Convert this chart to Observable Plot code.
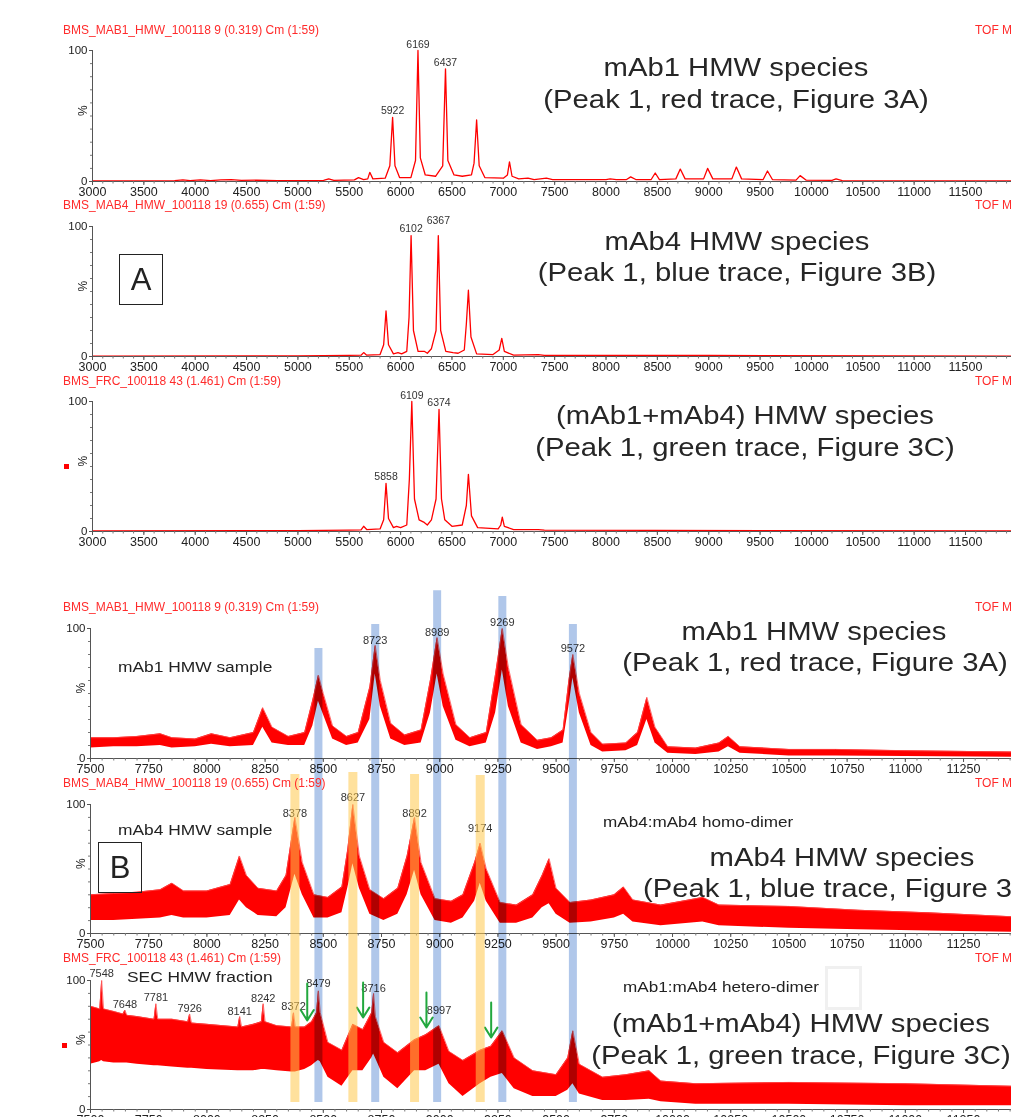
<!DOCTYPE html>
<html><head><meta charset="utf-8">
<script src="https://cdn.jsdelivr.net/npm/d3@7"></script>
<script src="https://cdn.jsdelivr.net/npm/@observablehq/plot@0.6"></script>
<style>
body{margin:0;background:#fff}
#fig{position:relative;width:1011px;height:1117px;overflow:hidden;background:#fff;font-family:"Liberation Sans",Arial,sans-serif}
#fig svg{position:absolute;left:0;overflow:visible}
.t{position:absolute;white-space:nowrap;line-height:1}
.hdr{font-size:12px;color:#ff2b2b;transform:translate(0,-50%)}
.big{font-size:25px;color:#262626;transform:translate(-50%,-50%) scaleX(1.17)}
.bigl{font-size:25px;color:#262626;transform-origin:0 50%;transform:translate(0,-50%) scaleX(1.17)}
.mid{font-size:15.5px;color:#222;transform-origin:0 50%;transform:translate(0,-50%) scaleX(1.12)}
.sm{font-size:14.5px;color:#222;transform-origin:0 50%;transform:translate(0,-50%) scaleX(1.18)}
.box{position:absolute;border:1.3px solid #222;box-sizing:border-box;display:flex;align-items:center;justify-content:center;font-size:31px;color:#222}
</style></head><body><div id="fig"></div>
<script>
// ---------- data ----------
const topTicks = [3000,3500,4000,4500,5000,5500,6000,6500,7000,7500,8000,8500,9000,9500,10000,10500,11000,11500];
const zoomTicks = [7500,7750,8000,8250,8500,8750,9000,9250,9500,9750,10000,10250,10500,10750,11000,11250];
const topDomain = [3000, 11948];
const zoomDomain = [7500, 11456];

// full-range spectra: [m/z, %]
const mab1Full = [[3000,0.5],[3800,0.6],[3880,1.3],[3950,0.7],[4050,1.3],[4150,0.7],[4250,1.3],[4350,1.5],[4450,0.8],[4600,1.0],[4800,0.7],[5000,0.6],[5250,0.8],[5300,2],[5350,0.8],[5550,1.2],[5590,3],[5640,1.5],[5680,2],[5700,7],[5730,2],[5850,2.5],[5895,12],[5922,49],[5945,12],[5990,3],[6100,3],[6145,16],[6169,100],[6192,18],[6240,5],[6340,4],[6410,12],[6437,86],[6460,16],[6520,5],[6600,4],[6690,5],[6715,14],[6740,47],[6765,12],[6820,3],[7000,2.5],[7040,5],[7060,15],[7085,4],[7150,2],[7240,2.5],[7300,1.5],[7420,2.5],[7480,1.5],[8000,1.5],[8040,2],[8100,1.5],[8200,1.5],[8240,3.5],[8290,1.5],[8440,1.5],[8479,6.5],[8520,1.5],[8680,2],[8723,9.5],[8770,2],[8950,2],[8989,10],[9040,2],[9225,2],[9269,11],[9320,2],[9530,1.5],[9572,8],[9620,1.5],[9850,1],[9890,4.5],[9950,1],[10200,0.8],[10240,2],[10300,0.6],[11948,0.5]];
const mab4Full = [[3000,0.3],[5000,0.4],[5500,0.8],[5615,1],[5640,3],[5670,1],[5800,1.5],[5835,9],[5858,35],[5882,9],[5930,2],[5975,3],[6010,2],[6060,4],[6082,30],[6102,93],[6125,20],[6170,4],[6230,4],[6260,2.5],[6300,6],[6345,20],[6367,93],[6390,20],[6440,4],[6510,3],[6560,2.5],[6620,5],[6640,25],[6660,51],[6685,15],[6740,2],[6900,1.5],[6960,5],[6985,14],[7010,4],[7100,1],[7340,1.5],[7400,0.8],[8500,0.8],[9000,0.8],[9600,0.6],[11948,0.3]];
const mixFull = [[3000,0.5],[4500,0.6],[5000,0.6],[5500,1],[5615,1.2],[5640,4],[5670,1.5],[5800,2],[5835,9],[5858,37],[5882,10],[5930,3],[5960,4],[6000,3],[6060,5],[6085,40],[6109,100],[6135,25],[6180,9],[6230,7],[6260,5],[6300,9],[6345,25],[6374,94],[6398,25],[6430,9],[6500,4],[6600,5],[6640,20],[6660,44],[6690,12],[6750,3],[6950,2],[6975,5],[6990,11],[7010,4],[7100,1.5],[7340,1.5],[7400,1],[11948,0.4]];

// zoomed spectra (noisy band): [m/z, lower %, upper %]
const mab1Zoom = [[7500,8,16],[7600,9,16],[7700,9,17],[7800,10,19],[7850,8,16],[7950,9,15],[8020,11,19],[8100,9,16],[8200,10,20],[8240,24,39],[8280,12,24],[8350,10,17],[8420,10,20],[8455,25,45],[8479,44,64],[8500,34,50],[8540,15,25],[8600,10,17],[8650,12,20],[8700,30,55],[8723,65,87],[8745,40,60],[8790,15,27],[8850,10,18],[8920,12,22],[8960,35,60],[8989,65,93],[9015,40,65],[9070,14,26],[9130,9,16],[9200,12,20],[9240,35,65],[9269,68,100],[9295,40,70],[9350,12,26],[9420,7,14],[9480,9,16],[9530,12,22],[9555,40,60],[9572,62,80],[9600,35,50],[9650,10,20],[9700,5,11],[9800,6,12],[9850,10,20],[9890,30,47],[9925,12,24],[9980,4,9],[10100,3,8],[10200,5,12],[10240,9,17],[10290,4,9],[10500,2,7],[10700,2,7],[11000,1.5,6],[11456,1,5]];
const mab4Zoom = [[7500,10,30],[7600,10,31],[7700,11,32],[7800,12,34],[7850,14,39],[7900,12,33],[8000,12,33],[8100,14,38],[8140,26,60],[8170,20,45],[8220,14,35],[8300,13,33],[8340,20,45],[8378,46,90],[8410,30,55],[8460,12,30],[8520,12,28],[8580,16,36],[8605,35,65],[8627,54,100],[8655,35,60],[8700,15,34],[8760,10,27],[8820,15,35],[8860,30,60],[8892,49,90],[8920,30,55],[8980,10,27],[9050,8,25],[9100,12,30],[9150,25,55],[9174,39,70],[9200,25,50],[9260,8,24],[9330,8,22],[9400,12,30],[9440,20,45],[9470,23,58],[9500,15,35],[9560,8,24],[9650,9,26],[9750,12,30],[9790,15,36],[9830,9,26],[9950,6,22],[10130,9,28],[10200,6,22],[10500,4,21],[10800,3,18],[11100,2,16],[11456,1,13]];
const mixZoom = [[7500,35,80],[7540,37,78],[7548,38,100],[7556,37,78],[7600,36,76],[7640,36,74],[7648,36,77],[7656,36,73],[7700,35,72],[7773,34,70],[7781,34,82],[7789,34,70],[7850,33,70],[7918,32,68],[7926,32,74],[7934,32,67],[8000,31,66],[8133,30,64],[8141,30,72],[8149,30,64],[8200,30,66],[8234,31,68],[8242,31,82],[8250,31,68],[8300,30,65],[8364,29,64],[8372,29,75],[8380,29,64],[8420,31,64],[8450,34,68],[8471,37,75],[8479,38,92],[8487,37,75],[8520,25,52],[8580,18,46],[8627,30,66],[8670,30,62],[8708,40,75],[8716,43,90],[8724,40,72],[8760,25,52],[8820,16,44],[8892,30,54],[8940,30,58],[8997,35,65],[9040,20,45],[9100,10,38],[9174,20,46],[9220,25,49],[9269,28,61],[9320,16,40],[9400,10,30],[9500,10,27],[9550,15,40],[9572,20,61],[9600,12,35],[9700,7,25],[9800,7,27],[9900,8,30],[9950,6,22],[10100,4,20],[10500,4,21],[11000,3,20],[11456,3,18]];

// peak labels: [m/z, label height %]
const mab1FullLabels = [[5922,54],[6169,104.6],[6437,90.8]];
const mab4FullLabels = [[6102,98.5],[6367,104.6]];
const mixFullLabels = [[5858,42.3],[6109,104.6],[6374,99.2]];
const mab1ZoomLabels = [[8723,90.8],[8989,96.9],[9269,104.6],[9572,84.6]];
const mab4ZoomLabels = [[8378,93],[8627,105.4],[8892,93],[9174,81.4]];
const mixZoomLabels = [[7548,105.4],[7648,81.4],[7781,86.8],[7926,78.3],[8141,76],[8242,86],[8372,79.8],[8479,97.7],[8716,93.8],[8997,76.7]];

// green arrows in the mixture panel: [m/z, tail %, tip %]
const heteroArrows = [[8431,97.7,69],[8671,98.4,71.3],[8943,90.7,63.6],[9221,83,55.8]];

// highlight bands (heights in units of the mAb1 zoom panel %)
const blueBandMass = [8479, 8723, 8989, 9269, 9572];
const blueBandTop = [84.6, 103, 129, 124.6, 103];
const yellowBandMass = [8378, 8627, 8892, 9174];
const yellowBandTop = [-12.3, -10.8, -12.3, -13.1];
const bandBottom = -264.6;

// text
const headers = [
  ["BMS_MAB1_HMW_100118 9 (0.319) Cm (1:59)", 30],
  ["BMS_MAB4_HMW_100118 19 (0.655) Cm (1:59)", 205],
  ["BMS_FRC_100118 43 (1.461) Cm (1:59)", 381],
  ["BMS_MAB1_HMW_100118 9 (0.319) Cm (1:59)", 607],
  ["BMS_MAB4_HMW_100118 19 (0.655) Cm (1:59)", 783],
  ["BMS_FRC_100118 43 (1.461) Cm (1:59)", 958]
];

// ---------- drawing ----------
const fig = document.getElementById("fig");
const FONT = '"Liberation Sans", Arial, sans-serif';
const RED = "#ff0000";

function panel({top, plotH, ml, domain, ticks, minorStep, line, band, labels, extra = [], labelSize = 10.5}) {
  const minor = d3.range(domain[0], domain[1], minorStep);
  const marks = [
    line ? Plot.line(line, {x: d => d[0], y: d => d[1], stroke: RED, strokeWidth: 1.3}) : null,
    band ? Plot.areaY(band, {x: d => d[0], y1: d => d[1], y2: d => d[2], fill: RED}) : null,
    band ? Plot.line(band, {x: d => d[0], y: d => d[2], stroke: "#ff4a4a", strokeWidth: 0.8}) : null,
    Plot.ruleY([0], {stroke: "#555"}),
    Plot.ruleX([domain[0]], {y1: 0, y2: 100, stroke: "#555"}),
    Plot.axisX({ticks: minor, tickSize: 2.5, tickFormat: () => "", stroke: "#777", label: null}),
    Plot.axisX({ticks, tickSize: 4, tickPadding: 2, tickFormat: d => String(d), fontSize: 12.5, fill: "#222", stroke: "#555", label: null}),
    Plot.axisY({ticks: d3.range(10, 100, 10), tickSize: 2, tickFormat: () => "", stroke: "#777", label: null}),
    Plot.axisY({ticks: [0, 100], tickSize: 3, tickPadding: 2, tickFormat: d => String(d), fontSize: 11.5, fill: "#222", stroke: "#555", label: null}),
    Plot.text(["%"], {frameAnchor: "left", dx: -9, rotate: -90, fontSize: 12, fill: "#222"}),
    Plot.text(labels, {x: d => d[0], y: d => d[1], text: d => String(d[0]), fontSize: labelSize, fill: "#333"}),
    ...extra
  ].filter(Boolean);
  const svg = Plot.plot({
    width: 1011, height: 10 + plotH + 30,
    marginTop: 10, marginBottom: 30, marginLeft: ml, marginRight: 0,
    x: {domain, axis: null}, y: {domain: [0, 100], axis: null},
    style: {background: "transparent", fontFamily: FONT, overflow: "visible"},
    marks
  });
  svg.style.top = (top - 10) + "px";
  fig.appendChild(svg);
}

panel({top: 50, plotH: 131, ml: 92, domain: topDomain, ticks: topTicks, minorStep: 100, line: mab1Full, labels: mab1FullLabels});
panel({top: 226, plotH: 130, ml: 92, domain: topDomain, ticks: topTicks, minorStep: 100, line: mab4Full, labels: mab4FullLabels});
panel({top: 401, plotH: 130, ml: 92, domain: topDomain, ticks: topTicks, minorStep: 100, line: mixFull, labels: mixFullLabels});
panel({top: 628, plotH: 130, ml: 90, domain: zoomDomain, ticks: zoomTicks, minorStep: 50, band: mab1Zoom, labels: mab1ZoomLabels, labelSize: 11});
panel({top: 804, plotH: 129, ml: 90, domain: zoomDomain, ticks: zoomTicks, minorStep: 50, band: mab4Zoom, labels: mab4ZoomLabels, labelSize: 11});
panel({top: 980, plotH: 129, ml: 90, domain: zoomDomain, ticks: zoomTicks, minorStep: 50, band: mixZoom, labels: mixZoomLabels, labelSize: 11,
  extra: [Plot.arrow(heteroArrows, {x1: d => d[0], x2: d => d[0], y1: d => d[1], y2: d => d[2], stroke: "#22a83e", strokeWidth: 2, headLength: 14, headAngle: 64})]});

// highlight band overlays
function overlay(marks, style) {
  const svg = Plot.plot({
    width: 1011, height: 537, marginTop: 48, marginBottom: 359, marginLeft: 90, marginRight: 0,
    x: {domain: zoomDomain, axis: null}, y: {domain: [0, 100], axis: null},
    style: Object.assign({background: "transparent", overflow: "visible", pointerEvents: "none"}, style),
    marks
  });
  svg.style.top = "580px";
  fig.appendChild(svg);
}
overlay([Plot.ruleX(yellowBandMass, {x: d => d, y1: bandBottom, y2: (d, i) => yellowBandTop[i], stroke: "#ffc94d", strokeOpacity: 0.55, strokeWidth: 9})], {});
overlay([Plot.ruleX(blueBandMass, {x: d => d, y1: bandBottom, y2: (d, i) => blueBandTop[i], stroke: "#b0c7ea", strokeWidth: 8})], {mixBlendMode: "multiply"});

// html text
function txt(cls, s, x, y) {
  const d = document.createElement("div");
  d.className = "t " + cls; d.textContent = s;
  d.style.left = x + "px"; d.style.top = y + "px";
  fig.appendChild(d); return d;
}
headers.forEach(([s, y]) => { txt("hdr", s, 63, y); txt("hdr", "TOF M", 975, y); });
txt("big", "mAb1 HMW species", 736, 67);
txt("big", "(Peak 1, red trace, Figure 3A)", 736, 99);
txt("big", "mAb4 HMW species", 737, 241);
txt("big", "(Peak 1, blue trace, Figure 3B)", 737, 272);
txt("big", "(mAb1+mAb4) HMW species", 745, 415);
txt("big", "(Peak 1, green trace, Figure 3C)", 745, 447);
txt("big", "mAb1 HMW species", 814, 631);
txt("big", "(Peak 1, red trace, Figure 3A)", 815, 662);
txt("big", "mAb4 HMW species", 842, 857);
txt("bigl", "(Peak 1, blue trace, Figure 3B)", 643, 888);
txt("big", "(mAb1+mAb4) HMW species", 801, 1023);
txt("big", "(Peak 1, green trace, Figure 3C)", 801, 1055);
txt("mid", "mAb1 HMW sample", 118, 667);
txt("mid", "mAb4 HMW sample", 118, 830);
txt("mid", "SEC HMW fraction", 127, 977);
txt("sm", "mAb4:mAb4 homo-dimer", 603, 822);
txt("sm", "mAb1:mAb4 hetero-dimer", 623, 987);

function box(label, x, y, w, h, extraStyle) {
  const d = document.createElement("div");
  d.className = "box"; d.textContent = label;
  Object.assign(d.style, {left: x + "px", top: y + "px", width: w + "px", height: h + "px"}, extraStyle || {});
  fig.appendChild(d);
}
box("A", 119, 254, 44, 51);
box("B", 98, 842, 44, 51);
box("", 825, 966, 37, 44, {border: "3px solid #f0f0f0"});
box("", 64, 464, 5, 5, {border: "none", background: RED});
box("", 62, 1043, 5, 5, {border: "none", background: RED});
</script></body></html>
